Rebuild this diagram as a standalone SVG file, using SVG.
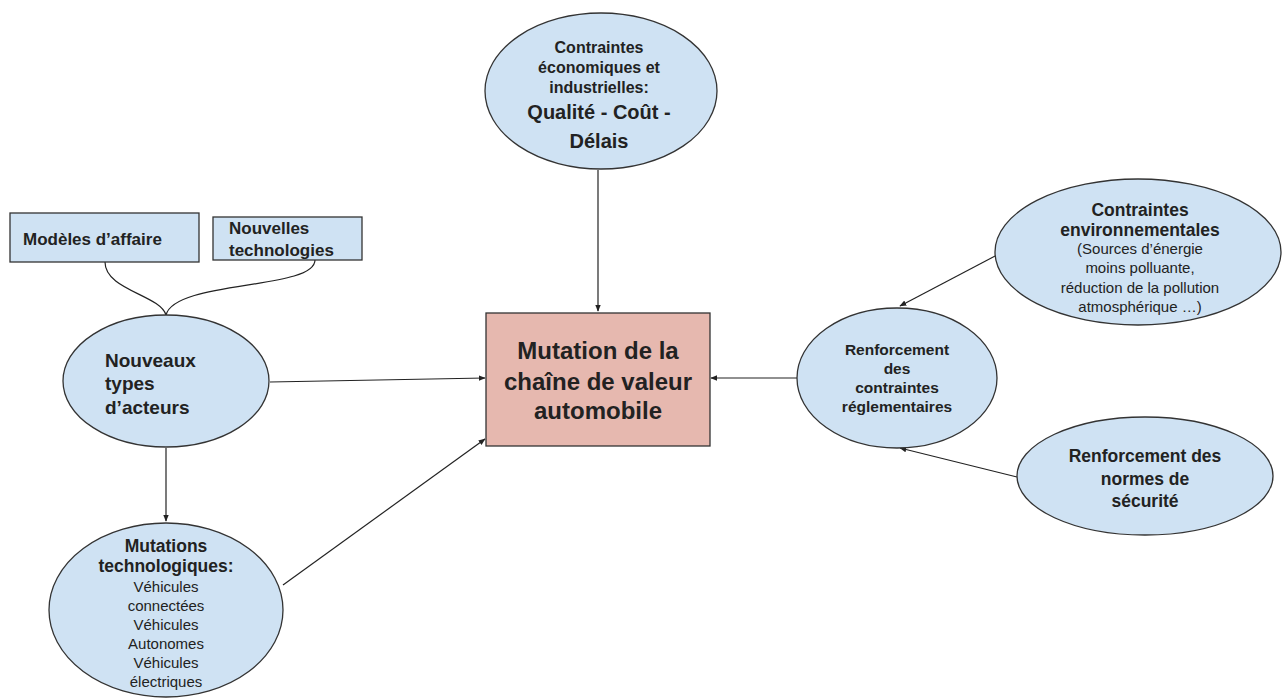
<svg xmlns="http://www.w3.org/2000/svg" width="1288" height="698" viewBox="0 0 1288 698">
<defs>
<marker id="ah" viewBox="0 0 10 10" refX="9" refY="5" markerWidth="7" markerHeight="7" orient="auto" markerUnits="userSpaceOnUse">
<path d="M0,1 L10,5 L0,9 z" fill="#222"/>
</marker>
<style>
.n{fill:#cfe2f3;stroke:#333;stroke-width:1.3}
.c{fill:#e6b8af;stroke:#333;stroke-width:1.3}
.t{font-family:"Liberation Sans",Arial,sans-serif;fill:#222}
.b{font-weight:bold}
.m{text-anchor:middle}
.e{stroke:#222;stroke-width:1.2;fill:none}
</style>
</defs>
<rect width="1288" height="698" fill="#fff"/>
<g id="connectors">
<line class="e" x1="598" y1="170" x2="598" y2="311" marker-end="url(#ah)"/>
<line class="e" x1="270" y1="382" x2="485" y2="378" marker-end="url(#ah)"/>
<line class="e" x1="166" y1="448" x2="166" y2="521" marker-end="url(#ah)"/>
<line class="e" x1="283" y1="585" x2="485" y2="439" marker-end="url(#ah)"/>
<line class="e" x1="797" y1="378" x2="711" y2="378" marker-end="url(#ah)"/>
<line class="e" x1="997" y1="255" x2="900" y2="306" marker-end="url(#ah)"/>
<line class="e" x1="1017" y1="477" x2="900" y2="448" marker-end="url(#ah)"/>
<path class="e" d="M105,262 C105,290 160,295 166,315"/>
<path class="e" d="M315,260 C315,290 175,280 166,315"/>
</g>
<g id="center">
<rect class="c" x="486" y="313" width="224" height="133"/>
<text class="t b m" font-size="24" x="598" y="359">Mutation de la</text>
<text class="t b m" font-size="24" x="598" y="390">chaîne de valeur</text>
<text class="t b m" font-size="24" x="598" y="419">automobile</text>
</g>
<g id="economiques">
<ellipse class="n" cx="601" cy="91" rx="116" ry="78"/>
<text class="t b m" font-size="16" x="599" y="53">Contraintes</text>
<text class="t b m" font-size="16" x="599" y="73">économiques et</text>
<text class="t b m" font-size="16" x="599" y="93">industrielles:</text>
<text class="t b m" font-size="20" x="599" y="119">Qualité - Coût -</text>
<text class="t b m" font-size="20" x="599" y="148">Délais</text>
</g>
<g id="modeles">
<rect class="n" x="10" y="213" width="189" height="49"/>
<text class="t b" font-size="17" x="23" y="245">Modèles d’affaire</text>
</g>
<g id="technologies">
<rect class="n" x="213" y="217" width="149" height="43"/>
<text class="t b" font-size="17" x="229" y="234">Nouvelles</text>
<text class="t b" font-size="17" x="229" y="256">technologies</text>
</g>
<g id="acteurs">
<ellipse class="n" cx="166" cy="381" rx="103" ry="66"/>
<text class="t b" font-size="19" x="105" y="367">Nouveaux</text>
<text class="t b" font-size="19" x="105" y="390">types</text>
<text class="t b" font-size="19" x="105" y="414">d’acteurs</text>
</g>
<g id="mutations">
<ellipse class="n" cx="166" cy="610" rx="117" ry="87"/>
<text class="t b m" font-size="17.5" x="166" y="552">Mutations</text>
<text class="t b m" font-size="17.5" x="166" y="572">technologiques:</text>
<text class="t m" font-size="15" x="166" y="592">Véhicules</text>
<text class="t m" font-size="15" x="166" y="611">connectées</text>
<text class="t m" font-size="15" x="166" y="630">Véhicules</text>
<text class="t m" font-size="15" x="166" y="649">Autonomes</text>
<text class="t m" font-size="15" x="166" y="668">Véhicules</text>
<text class="t m" font-size="15" x="166" y="687">électriques</text>
</g>
<g id="reglementaires">
<ellipse class="n" cx="897" cy="378" rx="100" ry="70"/>
<text class="t b m" font-size="15.5" x="897" y="355">Renforcement</text>
<text class="t b m" font-size="15.5" x="897" y="374">des</text>
<text class="t b m" font-size="15.5" x="897" y="393">contraintes</text>
<text class="t b m" font-size="15.5" x="897" y="412">réglementaires</text>
</g>
<g id="environnementales">
<ellipse class="n" cx="1138" cy="252" rx="143" ry="73"/>
<text class="t b m" font-size="17.5" x="1140" y="216">Contraintes</text>
<text class="t b m" font-size="17.5" x="1140" y="236">environnementales</text>
<text class="t m" font-size="15" x="1140" y="254">(Sources d’énergie</text>
<text class="t m" font-size="15" x="1140" y="273">moins polluante,</text>
<text class="t m" font-size="15" x="1140" y="293">réduction de la pollution</text>
<text class="t m" font-size="15" x="1140" y="312">atmosphérique …)</text>
</g>
<g id="securite">
<ellipse class="n" cx="1145" cy="476" rx="128" ry="59"/>
<text class="t b m" font-size="17.5" x="1145" y="462">Renforcement des</text>
<text class="t b m" font-size="17.5" x="1145" y="485">normes de</text>
<text class="t b m" font-size="17.5" x="1145" y="507">sécurité</text>
</g>
</svg>
